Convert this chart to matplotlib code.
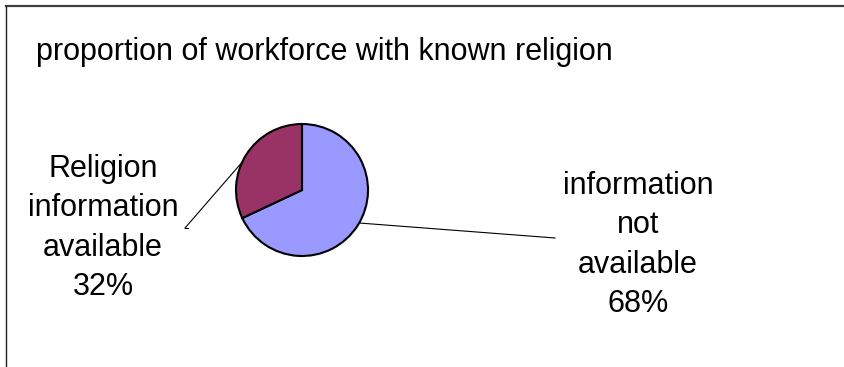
import numpy as np
import matplotlib.pyplot as plt
from matplotlib.lines import Line2D

plt.rcParams['font.family'] = ['Liberation Sans', 'DejaVu Sans']

title = "proportion of workforce with known religion"
labels = ["information\nnot\navailable", "Religion\ninformation\navailable"]
shares = [68, 32]
colors = ["#9999FF", "#993366"]

W, H = 844, 367
fig = plt.figure(figsize=(W / 100, H / 100), dpi=100)
ax = fig.add_axes([0, 0, 1, 1])

# chart frame (only top and left edges visible)
fig.add_artist(Line2D([5.5 / W, 1], [1 - 6 / H, 1 - 6 / H], color="#404040", lw=1.6))
fig.add_artist(Line2D([5.5 / W, 5.5 / W], [0, 1 - 6 / H], color="#202020", lw=1.0))

cx, cy, r = 302, H - 190, 66
wedges, _ = ax.pie(shares, colors=colors, startangle=90, counterclock=False,
                   center=(cx, cy), radius=r,
                   wedgeprops=dict(edgecolor="black", linewidth=1.5))

ax.text(36, H - 60, title, fontsize=22, ha='left', va='baseline')

# labels with leader lines
lab_pos = [(638, H - 245), (103, H - 228)]
leader_ang = [-30, 155]
leader_end = [(555, H - 238), (185, H - 228)]
for lab, v, (tx, ty), a, (ex, ey) in zip(labels, shares, lab_pos, leader_ang, leader_end):
    ax.text(tx, ty, f"{lab}\n{v}%", fontsize=22, ha='center', va='center',
            linespacing=1.4)
    sx = cx + r * np.cos(np.radians(a))
    sy = cy + r * np.sin(np.radians(a))
    ax.plot([sx, ex], [sy, ey], color="black", lw=0.8)
ax.plot([leader_end[1][0], leader_end[1][0] + 3], [leader_end[1][1]] * 2, color="black", lw=0.8)

ax.set_xlim(0, W)
ax.set_ylim(0, H)
ax.set_aspect('equal')
ax.axis('off')

fig.savefig("out.png", dpi=100)
